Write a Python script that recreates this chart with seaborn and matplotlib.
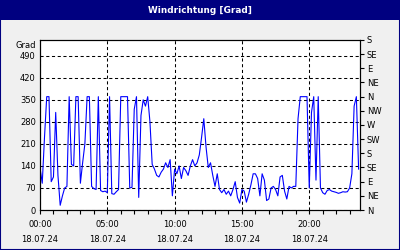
import matplotlib
matplotlib.use("Agg")
import matplotlib.pyplot as plt
import seaborn as sns
import pandas as pd
from matplotlib.patches import Rectangle

title = "Windrichtung [Grad]"
unit_label = "Grad"
date_label = "18.07.24"
hour_ticks = [0, 5, 10, 15, 20]
hour_labels = ["00:00", "05:00", "10:00", "15:00", "20:00"]
grad_ticks = [0, 70, 140, 210, 280, 350, 420, 490]
compass_ticks = [0, 45, 90, 135, 180, 225, 270, 315, 360, 405, 450, 495, 540]
compass_labels = ["N", "NE", "E", "SE", "S", "SW", "W", "NW", "N", "NE", "E", "SE", "S"]
interval_minutes = 10

# wind direction in degrees, one value every 10 minutes from 00:00
direction = [
    135, 85, 230, 360, 360, 90,        # 0h
    105, 310, 110, 15, 45, 70,         # 1h
    75, 360, 145, 140, 360, 360,       # 2h
    85, 150, 210, 360, 360, 75,        # 3h
    68, 65, 360, 62, 58, 60,           # 4h
    55, 360, 52, 50, 58, 65,           # 5h
    360, 360, 360, 360, 70, 72,        # 6h
    320, 360, 40, 300, 350, 330,       # 7h
    360, 280, 145, 130, 110, 105,      # 8h
    120, 130, 150, 135, 160, 45,       # 9h
    130, 115, 140, 100, 135, 125,      # 10h
    110, 140, 160, 140, 150, 175,      # 11h
    230, 290, 200, 135, 150, 110,      # 12h
    75, 115, 65, 55, 65, 50,           # 13h
    60, 45, 65, 90, 40, 22,            # 14h
    65, 60, 25, 50, 80, 115,           # 15h
    115, 100, 45, 115, 95, 30,         # 16h
    35, 70, 75, 65, 45, 105,           # 17h
    110, 60, 35, 75, 70, 75,           # 18h
    75, 290, 360, 360, 360, 360,       # 19h
    70, 310, 360, 95, 360, 70,         # 20h
    55, 50, 62, 65, 60, 58,            # 21h
    56, 53, 55, 58, 57, 58,            # 22h
    70, 115, 330, 360, 130,            # 23h
]

df = pd.DataFrame({"deg": direction})
df["hour"] = df.index * interval_minutes / 60.0

fig = plt.figure(figsize=(4, 2.5), dpi=100, facecolor="#f0f0f0")
ax = fig.add_axes([0.1, 0.16, 0.8, 0.68])
ax.set_facecolor("white")

sns.lineplot(data=df, x="hour", y="deg", ax=ax, color="#0000ff",
             linewidth=0.8, estimator=None, sort=False)

ax.set_xlim(0, 23.77)
ax.set_ylim(0, 540)
ax.set_xlabel("")
ax.set_ylabel("")

fs = 6.0
ax.set_yticks(grad_ticks)
ax.set_yticklabels([str(v) for v in grad_ticks])
ax.tick_params(axis="y", length=0, labelsize=fs, pad=3)

ax.set_xticks(hour_ticks)
ax.set_xticklabels([f"{h}\n{date_label}" for h in hour_labels], linespacing=1.9)
ax.set_xticks(range(0, 24), minor=True)
ax.tick_params(axis="x", which="both", length=3, width=0.8, direction="out",
               labelsize=fs, pad=4)

ax.grid(True, which="major", color="black", linestyle=(0, (3, 2.5)), linewidth=0.75)
for s in ax.spines.values():
    s.set_color("black")
    s.set_linewidth(0.8)

ax2 = ax.twinx()
ax2.set_ylim(0, 540)
ax2.set_yticks(compass_ticks)
ax2.set_yticklabels(compass_labels)
ax2.tick_params(axis="y", length=3, width=0.8, direction="out", labelsize=fs, pad=2)
for s in ax2.spines.values():
    s.set_color("black")
    s.set_linewidth(0.8)

ax.text(-0.012, 0.97, unit_label, transform=ax.transAxes, ha="right", va="center",
        fontsize=fs)

fig.patches.append(Rectangle((0, 0.92), 1, 0.08, transform=fig.transFigure,
                             facecolor="#000080", edgecolor="none", zorder=0))
fig.text(0.5, 0.958, title, color="white", fontsize=6.4, fontweight="bold",
         ha="center", va="center")
fig.patches.append(Rectangle((0, 0), 1, 1, transform=fig.transFigure, fill=False,
                             edgecolor="#000080", linewidth=1.5, zorder=5))

fig.savefig("out.png", dpi=100, facecolor=fig.get_facecolor())
